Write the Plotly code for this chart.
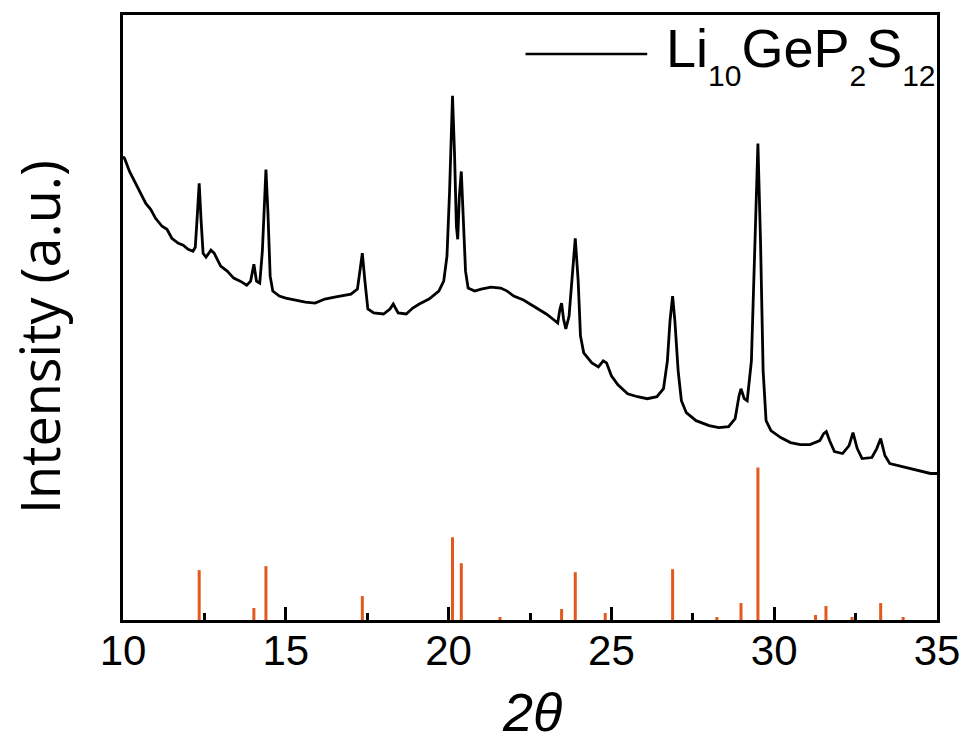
import plotly.graph_objects as go

# Measured XRD pattern (2θ, intensity in arbitrary units)
two_theta = [10.00, 10.05, 10.2, 10.35, 10.5, 10.7, 10.85, 11.0, 11.2, 11.35, 11.5, 11.7, 11.85, 12.0,
             12.15, 12.22, 12.28, 12.34, 12.40, 12.46, 12.55, 12.7, 12.8, 13.0, 13.2, 13.4, 13.6, 13.8,
             13.92, 14.02, 14.1, 14.2, 14.28, 14.34, 14.39, 14.45, 14.52, 14.6, 14.8, 15.0, 15.3, 15.6,
             15.9, 16.2, 16.5, 16.8, 17.0, 17.2, 17.28, 17.35, 17.43, 17.52, 17.7, 18.0, 18.2, 18.3,
             18.45, 18.7, 18.9, 19.1, 19.4, 19.7, 19.85, 19.95, 20.03, 20.08, 20.12, 20.18, 20.24, 20.28,
             20.33, 20.39, 20.45, 20.52, 20.6, 20.8, 21.0, 21.3, 21.6, 21.8, 22.0, 22.3, 22.5, 22.8,
             23.0, 23.2, 23.35, 23.42, 23.47, 23.53, 23.6, 23.7, 23.8, 23.89, 23.98, 24.05, 24.15, 24.4,
             24.6, 24.75, 24.85, 25.0, 25.2, 25.5, 25.8, 26.1, 26.4, 26.6, 26.72, 26.8, 26.88, 26.95,
             27.05, 27.15, 27.3, 27.6, 28.0, 28.3, 28.6, 28.8, 28.92, 28.98, 29.08, 29.17, 29.3, 29.4,
             29.5, 29.58, 29.66, 29.75, 29.9, 30.2, 30.5, 30.8, 31.1, 31.4, 31.52, 31.6, 31.7, 31.85,
             32.1, 32.3, 32.42, 32.55, 32.7, 33.0, 33.15, 33.27, 33.4, 33.55, 33.8, 34.1, 34.5, 34.8, 35.0]
intensity = [465, 463, 450, 440, 430, 418, 412, 403, 395, 392, 383, 378, 376, 372,
             370, 374, 405, 438, 400, 368, 364, 371, 368, 355, 350, 343, 340, 336,
             340, 357, 340, 338, 370, 425, 452, 410, 345, 330, 325, 323, 321, 319,
             318, 322, 324, 326, 327, 332, 350, 368, 340, 312, 308, 307, 312, 317,
             308, 307, 313, 317, 322, 330, 340, 365, 430, 500, 526, 470, 395, 382,
             425, 450, 405, 350, 333, 330, 332, 334, 333, 330, 325, 321, 317, 311,
             307, 302, 298, 312, 318, 302, 292, 305, 350, 383, 340, 285, 268, 258,
             254, 260, 258, 245, 236, 227, 224, 222, 224, 232, 260, 300, 325, 300,
             250, 220, 208, 200, 195, 193, 194, 202, 225, 232, 222, 220, 260, 370,
             478, 380, 250, 200, 190, 183, 178, 176, 176, 180, 187, 189, 180, 169,
             167, 175, 188, 172, 162, 163, 172, 182, 165, 157, 155, 152, 149, 147, 147]

# Reference pattern (stick positions and relative intensities)
ref_pos = [12.34, 14.02, 14.39, 17.35, 20.12, 20.39, 21.58, 23.47, 23.89, 24.81, 26.88,
           28.24, 28.98, 29.50, 31.27, 31.59, 32.39, 33.27, 33.96]
ref_int = [50, 12, 54, 24, 83, 57, 3, 11, 48, 7, 51, 3, 17, 153, 5, 14, 3, 17, 3]

SUB = '<sub><sub><span style="font-size:30px">{}</span></sub></sub>'
legend_label = "Li" + SUB.format("10") + "GeP" + SUB.format("2") + "S" + SUB.format("12")
x_title = "2θ"
y_title = "Intensity (a.u.)"
x_ticks = [10, 15, 20, 25, 30, 35]

stick_x, stick_y = [], []
for p, h in zip(ref_pos, ref_int):
    stick_x += [p, p, None]
    stick_y += [0, h, None]

fig = go.Figure()
fig.add_trace(go.Scatter(x=stick_x, y=stick_y, mode="lines",
                         line=dict(color="#E2581E", width=3), showlegend=False,
                         hoverinfo="skip"))
fig.add_trace(go.Scatter(x=two_theta, y=intensity, mode="lines",
                         line=dict(color="black", width=2.8), name="Li10GeP2S12",
                         showlegend=False))

fig.update_layout(
    width=972, height=745,
    margin=dict(l=123, r=26, t=13, b=125),
    paper_bgcolor="white", plot_bgcolor="white",
    font=dict(family="Liberation Sans, Arial, sans-serif", color="black"),
    xaxis=dict(range=[10, 35], tickvals=x_ticks, ticktext=[str(t) for t in x_ticks],
               ticks="inside", ticklen=13, tickwidth=3, tickcolor="black",
               minor=dict(dtick=2.5, tick0=10, ticks="inside", ticklen=7, tickwidth=3, tickcolor="black"),
               showline=True, linewidth=3, linecolor="black", mirror=True,
               showgrid=False, zeroline=False, ticklabelstandoff=-8,
               tickfont=dict(size=42, family="Liberation Sans, Arial, sans-serif")),
    yaxis=dict(range=[0, 607], showticklabels=False, ticks="",
               showline=True, linewidth=3, linecolor="black", mirror=True,
               showgrid=False, zeroline=False),
    shapes=[dict(type="line", xref="paper", yref="paper", x0=0.4945, x1=0.644,
                 y0=0.9357, y1=0.9357, line=dict(color="black", width=2.5))],
    annotations=[
        dict(text=legend_label, xref="paper", yref="paper", x=0.6646, y=0.934,
             xanchor="left", yanchor="middle", showarrow=False,
             font=dict(size=54, family="Liberation Sans, Arial, sans-serif")),
        dict(text=y_title, xref="paper", yref="paper", x=-0.1030, y=0.468,
             xanchor="center", yanchor="middle", showarrow=False, textangle=-90,
             font=dict(size=54, family="Open Sans, sans-serif")),
        dict(text=x_title, xref="paper", yref="paper", x=0.503, y=-0.2045,
             xanchor="center", yanchor="bottom", showarrow=False,
             font=dict(size=54, family="Liberation Sans, Arial, sans-serif", style="italic")),
    ],
)

fig.write_html("out.html")
